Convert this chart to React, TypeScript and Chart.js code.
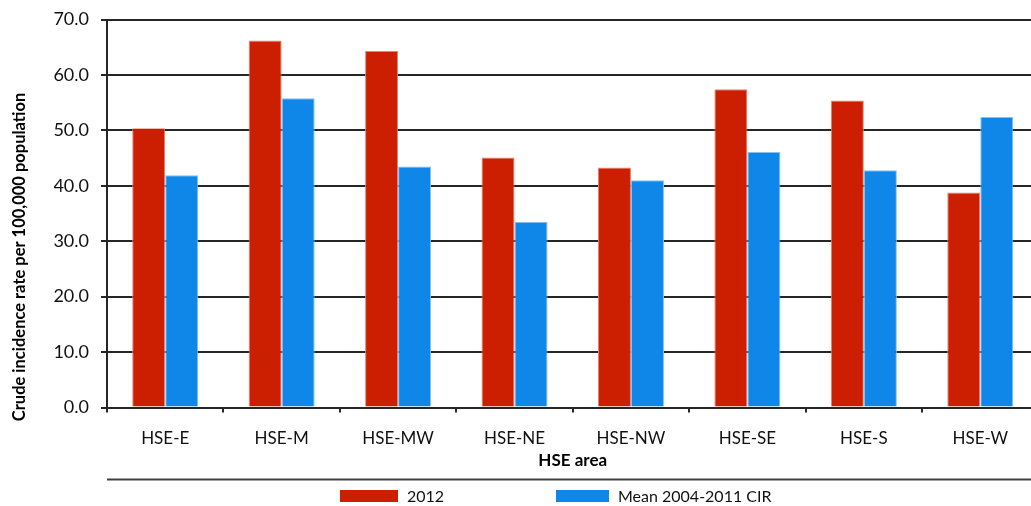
import React, { useEffect, useRef } from "react";
import { Chart, registerables } from "chart.js";

Chart.register(...registerables);

const categories = ["HSE-E", "HSE-M", "HSE-MW", "HSE-NE", "HSE-NW", "HSE-SE", "HSE-S", "HSE-W"];
const values2012 = [50.4, 66.2, 64.3, 45.1, 43.3, 57.4, 55.4, 38.8];
const valuesMean = [41.9, 55.8, 43.5, 33.5, 41.0, 46.1, 42.8, 52.4];
const seriesLabels = ["2012", "Mean 2004-2011 CIR"];
const seriesColors = ["#CC1E00", "#0E87E9"];
const seriesBorders = ["#e7836f", "#86c0f2"];
const yTickValues = [0, 10, 20, 30, 40, 50, 60, 70];
const yTitle = "Crude incidence rate per 100,000 population";
const xTitle = "HSE area";

const FONT = "Lato, 'Open Sans', sans-serif";
const DARK = "#262626";

const decorPlugin = {
  id: "decor",
  afterDraw(chart: any) {
    const { ctx, chartArea } = chart;
    ctx.save();
    // y-axis title
    ctx.translate(20, 257);
    ctx.rotate(-Math.PI / 2);
    ctx.fillStyle = "#000";
    ctx.font = `bold 16.5px ${FONT}`;
    ctx.textAlign = "center";
    ctx.textBaseline = "middle";
    ctx.fillText(yTitle, 0, 0);
    ctx.restore();

    // separator line
    ctx.save();
    ctx.strokeStyle = "#404040";
    ctx.lineWidth = 2;
    ctx.beginPath();
    ctx.moveTo(chartArea.left, 479.5);
    ctx.lineTo(chart.width, 479.5);
    ctx.stroke();
    ctx.restore();

    // legend
    const boxX = [340, 556];
    const boxW = [58, 53];
    ctx.save();
    ctx.font = `16px ${FONT}`;
    ctx.textBaseline = "middle";
    ctx.textAlign = "left";
    chart.data.datasets.forEach((ds: any, i: number) => {
      ctx.fillStyle = ds.backgroundColor;
      ctx.fillRect(boxX[i], 490, boxW[i], 12);
      ctx.fillStyle = "#111";
      ctx.fillText(ds.label, boxX[i] + boxW[i] + 9, 496.5);
    });
    ctx.restore();
  },
};

export default function App() {
  const ref = useRef<HTMLCanvasElement | null>(null);

  useEffect(() => {
    if (!ref.current) return;
    const chart = new Chart(ref.current, {
      type: "bar",
      data: {
        labels: categories,
        datasets: [
          {
            label: seriesLabels[0],
            data: values2012,
            backgroundColor: seriesColors[0],
            borderColor: seriesBorders[0],
            borderWidth: 1,
          },
          {
            label: seriesLabels[1],
            data: valuesMean,
            backgroundColor: seriesColors[1],
            borderColor: seriesBorders[1],
            borderWidth: 1,
          },
        ],
      },
      options: {
        responsive: false,
        animation: false,
        devicePixelRatio: 1,
        layout: { padding: { left: 54, right: 6.5, top: 19.5, bottom: 28 } },
        datasets: { bar: { barPercentage: 1, categoryPercentage: 0.567 } },
        plugins: {
          legend: { display: false },
          tooltip: { enabled: false },
          title: { display: false },
        },
        scales: {
          x: {
            offset: true,
            grid: {
              display: true,
              drawOnChartArea: false,
              drawTicks: true,
              tickLength: 5,
              color: DARK,
              lineWidth: 2,
              offset: true,
            },
            border: { display: true, color: DARK, width: 2 },
            ticks: {
              font: { family: FONT, size: 17 },
              color: "#111",
              padding: 16,
              maxRotation: 0,
            },
            title: {
              display: true,
              text: xTitle,
              font: { family: FONT, size: 17, weight: "bold" },
              color: "#000",
              padding: { top: 7, bottom: 7 },
            },
            afterFit: (scale: any) => {
              scale.height = 70.5;
              scale.paddingLeft = 0;
              scale.paddingRight = 0;
            },
          },
          y: {
            min: 0,
            max: 70,
            afterBuildTicks: (scale: any) => {
              scale.ticks = yTickValues.map((v) => ({ value: v }));
            },
            grid: {
              color: DARK,
              lineWidth: 2,
              tickLength: 6,
              drawTicks: true,
            },
            border: { display: true, color: DARK, width: 2 },
            ticks: {
              font: { family: FONT, size: 18 },
              color: "#111",
              padding: 12,
              callback: (v: any) => Number(v).toFixed(1),
            },
            afterFit: (scale: any) => {
              scale.width = 53;
              scale.paddingTop = 0;
              scale.paddingBottom = 0;
            },
          },
        },
      },
      plugins: [decorPlugin],
    });
    return () => chart.destroy();
  }, []);

  return (
    <div
      style={{
        position: "fixed",
        left: 0,
        top: 0,
        width: 1031,
        height: 506,
        overflow: "hidden",
        background: "#fff",
      }}
    >
      <canvas ref={ref} width={1045} height={506} style={{ display: "block" }} />
    </div>
  );
}
